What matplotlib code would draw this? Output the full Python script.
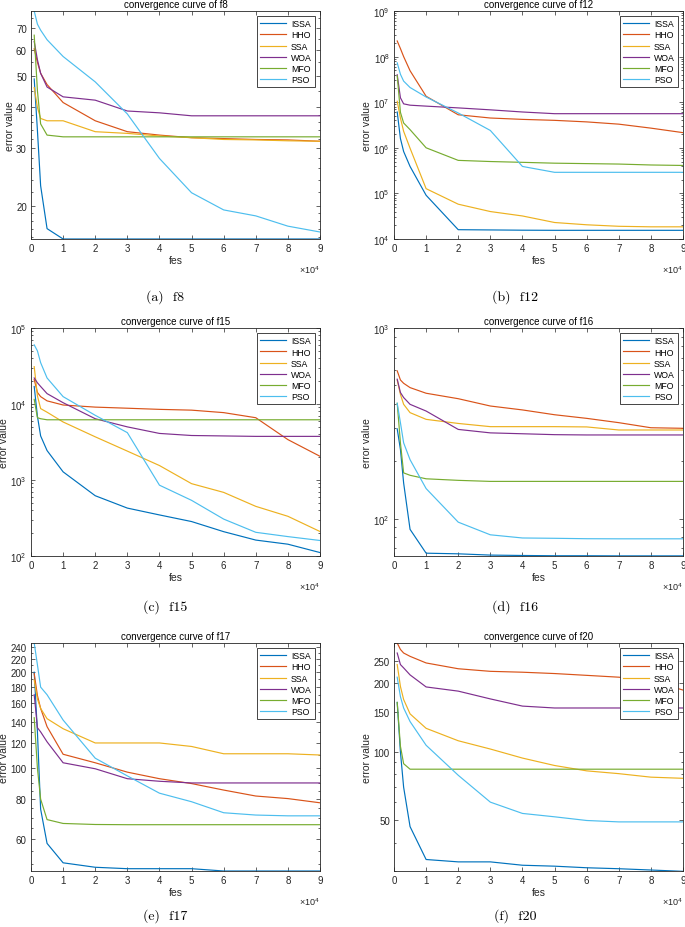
import matplotlib
matplotlib.use("Agg")
import matplotlib.pyplot as plt
from matplotlib.ticker import FixedLocator, FixedFormatter, NullFormatter, FuncFormatter, LogLocator, LogFormatterSciNotation
import numpy as np

plt.rcParams['font.family'] = ['Liberation Sans', 'DejaVu Sans']
plt.rcParams['mathtext.fontset'] = 'custom'
plt.rcParams['mathtext.rm'] = 'Liberation Sans'
plt.rcParams['mathtext.it'] = 'Liberation Sans:italic'

algorithms = ["ISSA", "HHO", "SSA", "WOA", "MFO", "PSO"]
colors = ["#0072BD", "#D95319", "#EDB120", "#7E2F8E", "#77AC30", "#4DBEEE"]
fes = [1000, 2000, 3000, 5000, 10000, 20000, 30000, 40000, 50000, 60000, 70000, 80000, 90000]

f8 = {
    "ISSA": [48.9, 34, 23, 17.0, 15.8, 15.8, 15.8, 15.8, 15.8, 15.8, 15.8, 15.8, 15.8],
    "HHO": [60.5, 55, 50.9, 47, 41.4, 36.4, 33.7, 32.9, 32.3, 32.1, 31.9, 31.8, 31.5],
    "SSA": [46.0, 40, 37.0, 36.4, 36.4, 33.7, 33.3, 32.7, 32.3, 31.9, 31.8, 31.6, 31.5],
    "WOA": [63.7, 56, 50.9, 46.2, 43.1, 42.1, 39.0, 38.5, 37.7, 37.7, 37.7, 37.7, 37.7],
    "MFO": [66.6, 45, 35.6, 32.9, 32.5, 32.5, 32.5, 32.5, 32.5, 32.5, 32.5, 32.5, 32.5],
    "PSO": [79, 72, 69, 64.5, 57.3, 47.9, 38.2, 27.9, 21.9, 19.4, 18.6, 17.3, 16.6],
}
f12 = {
    "ISSA": [6.1e6, 1.6e6, 8.3e5, 3.9e5, 9.1e4, 1.6e4, 1.58e4, 1.56e4, 1.55e4, 1.55e4, 1.55e4, 1.55e4, 1.55e4],
    "HHO": [2.2e8, 1.5e8, 1.0e8, 4.9e7, 1.35e7, 5.3e6, 4.5e6, 4.2e6, 4.0e6, 3.7e6, 3.3e6, 2.7e6, 2.15e6],
    "SSA": [1.05e7, 4.5e6, 2.3e6, 9.8e5, 1.27e5, 5.8e4, 4.0e4, 3.2e4, 2.3e4, 2.05e4, 1.9e4, 1.85e4, 1.85e4],
    "WOA": [4.0e7, 1.25e7, 9.2e6, 8.6e6, 8.2e6, 7.5e6, 6.8e6, 6.1e6, 5.6e6, 5.6e6, 5.6e6, 5.6e6, 5.6e6],
    "MFO": [3.8e7, 6.0e6, 3.5e6, 2.5e6, 1.0e6, 5.3e5, 5.0e5, 4.8e5, 4.6e5, 4.5e5, 4.4e5, 4.2e5, 4.1e5],
    "PSO": [7.3e7, 4.1e7, 2.9e7, 2.1e7, 1.3e7, 5.8e6, 2.4e6, 3.9e5, 2.9e5, 2.9e5, 2.9e5, 2.9e5, 2.9e5],
}
f15 = {
    "ISSA": [1.7e4, 6.9e3, 3.8e3, 2.44e3, 1.28e3, 621, 427, 347, 284, 209, 162, 143, 111],
    "HHO": [2.1e4, 1.42e4, 1.25e4, 1.1e4, 9.7e3, 9.1e3, 8.8e3, 8.5e3, 8.3e3, 7.7e3, 6.6e3, 3.4e3, 2.05e3],
    "SSA": [3.1e4, 1.28e4, 8.7e3, 7.8e3, 5.8e3, 3.7e3, 2.4e3, 1.55e3, 895, 687, 450, 333, 210],
    "WOA": [2.2e4, 1.9e4, 1.7e4, 1.37e4, 1.04e4, 6.4e3, 5.0e3, 4.1e3, 3.85e3, 3.8e3, 3.75e3, 3.75e3, 3.75e3],
    "MFO": [1.15e4, 6.6e3, 6.4e3, 6.2e3, 6.2e3, 6.2e3, 6.2e3, 6.2e3, 6.2e3, 6.2e3, 6.2e3, 6.2e3, 6.2e3],
    "PSO": [6.0e4, 5.0e4, 3.5e4, 2.2e4, 1.25e4, 7.1e3, 4.2e3, 855, 540, 306, 205, 180, 160],
}
f16 = {
    "ISSA": [296, 231, 154, 88, 66, 65.5, 64.5, 64.2, 64.0, 64.0, 63.9, 63.9, 63.9],
    "HHO": [596, 534, 513, 487, 455, 426, 390, 372, 351, 336, 319, 300, 298],
    "SSA": [533, 449, 398, 360, 332, 316, 304, 304, 304, 303, 292, 292, 292],
    "WOA": [539, 459, 432, 398, 367, 294, 282, 279, 276, 275, 275, 275, 275],
    "MFO": [403, 250, 174, 169, 162, 159, 157, 157, 157, 157, 157, 157, 157],
    "PSO": [403, 319, 250, 204, 144, 96, 82.4, 79.3, 79.0, 78.6, 78.5, 78.5, 78.5],
}
f17 = {
    "ISSA": [200, 130, 74.4, 58.1, 50.5, 48.9, 48.4, 48.4, 48.4, 47.6, 47.6, 47.6, 47.6],
    "HHO": [198, 169, 154, 135, 110.6, 104, 97.2, 92.7, 89.5, 85.4, 81.8, 80.3, 77.9],
    "SSA": [189, 165, 154, 143, 133, 120, 120, 120, 117, 111, 111, 111, 110],
    "WOA": [170, 134, 130, 121, 104, 99.6, 92.7, 91, 89.9, 89.9, 89.9, 89.9, 89.9],
    "MFO": [144, 100, 80, 69, 67.1, 66.6, 66.5, 66.5, 66.5, 66.5, 66.5, 66.5, 66.5],
    "PSO": [247, 211, 179.6, 170, 141.6, 107.5, 94.6, 83.5, 78.5, 72.5, 71.3, 70.9, 70.9],
}
f20 = {
    "ISSA": [165, 100, 70, 47, 33.7, 32.9, 32.9, 31.8, 31.5, 31.0, 30.7, 30.3, 29.9],
    "HHO": [301, 282, 272, 263, 246, 232, 226, 224, 221, 217, 213, 206, 187],
    "SSA": [242, 194, 170, 147, 127, 112, 103, 94, 87.2, 82.6, 80.3, 77.5, 76.6],
    "WOA": [272, 242, 234, 218, 193, 185, 171, 159, 156, 156, 156, 156, 156],
    "MFO": [165, 106, 88.8, 84.0, 84.0, 84.0, 84.0, 84.0, 84.0, 84.0, 84.0, 84.0, 84.0],
    "PSO": [213, 175, 156, 136, 107, 79, 60.2, 53.7, 51.9, 50.0, 49.3, 49.3, 49.3],
}

panels = [
    ("f8", f8, "(a)  f8", (15.8, 79), [20, 30, 40, 50, 60, 70],
     [16, 17, 18, 19, 22, 24, 26, 28, 32, 34, 36, 38, 45, 55, 65, 75]),
    ("f12", f12, "(b)  f12", (1e4, 1e9), None, None),
    ("f15", f15, "(c)  f15", (1e2, 1e5), None, None),
    ("f16", f16, "(d)  f16", (63.8, 1e3), None, None),
    ("f17", f17, "(e)  f17", (47.6, 247), [60, 80, 100, 120, 140, 160, 180, 200, 220, 240],
     [50, 55, 65, 70, 75, 85, 90, 95, 110, 130, 150, 170, 190, 210, 230]),
    ("f20", f20, "(f)  f20", (30, 301), [50, 100, 150, 200, 250],
     [30, 40, 60, 70, 80, 90, 300]),
]

W, H = 685, 928
fig = plt.figure(figsize=(W / 100, H / 100), dpi=100)

lefts = [31, 394]
tops = [12, 329, 644]
aw, ah = 289, 228
cap_y = [297, 607, 916]
cap_x = [165, 515]

for i, (name, data, cap, ylim, majors, minors) in enumerate(panels):
    r, c = divmod(i, 2)
    l, t = lefts[c], tops[r]
    ax = fig.add_axes([l / W, 1 - (t + ah) / H, aw / W, ah / H])
    for alg, col in zip(algorithms, colors):
        ax.plot(fes, data[alg], color=col, lw=0.85, label=alg)
    ax.set_yscale('log')
    ax.set_xlim(0, 90000)
    ax.set_ylim(*ylim)
    ax.xaxis.set_major_locator(FixedLocator(np.arange(0, 90001, 10000)))
    ax.xaxis.set_major_formatter(FuncFormatter(lambda v, p: f"{v / 1e4:.0f}"))
    if majors is not None:
        ax.yaxis.set_major_locator(FixedLocator(majors))
        ax.yaxis.set_major_formatter(FixedFormatter([str(m) for m in majors]))
        ax.yaxis.set_minor_locator(FixedLocator(minors))
        ax.yaxis.set_minor_formatter(NullFormatter())
    else:
        ax.yaxis.set_major_locator(LogLocator(base=10, numticks=20))
        ax.yaxis.set_major_formatter(LogFormatterSciNotation())
        ax.yaxis.set_minor_locator(LogLocator(base=10, subs=np.arange(2, 10), numticks=20))
        ax.yaxis.set_minor_formatter(NullFormatter())
    ax.tick_params(which='both', direction='in', top=True, right=True, labelsize=7,
                   color='#262626', labelcolor='#262626', width=0.5)
    ax.tick_params(which='major', length=3, pad=3)
    ax.tick_params(which='minor', length=1.6)
    for s in ax.spines.values():
        s.set_color('#262626')
        s.set_linewidth(0.6)
    ax.set_title(f"convergence curve of {name}", fontsize=7, pad=3, color='#000000')
    ax.set_xlabel("fes", fontsize=7.5, labelpad=1, color='#262626')
    ax.set_ylabel("error value", fontsize=7.5, labelpad=1, color='#262626')
    ax.text(1.0, -0.105, r"$\times10^{4}$", transform=ax.transAxes, ha='right', va='top',
            fontsize=6.5, color='#262626')
    leg = ax.legend(loc='upper right', fontsize=6.3, handlelength=3.0, frameon=True,
                    fancybox=False, edgecolor='#262626', framealpha=1, borderpad=0.35,
                    labelspacing=0.25, handletextpad=0.5, borderaxespad=0.6)
    leg.get_frame().set_linewidth(0.6)
    fig.text(cap_x[c] / W, 1 - cap_y[r] / H, cap, ha='center', va='center',
             fontsize=10, family='cmr10')

fig.savefig("out.png", dpi=100)
